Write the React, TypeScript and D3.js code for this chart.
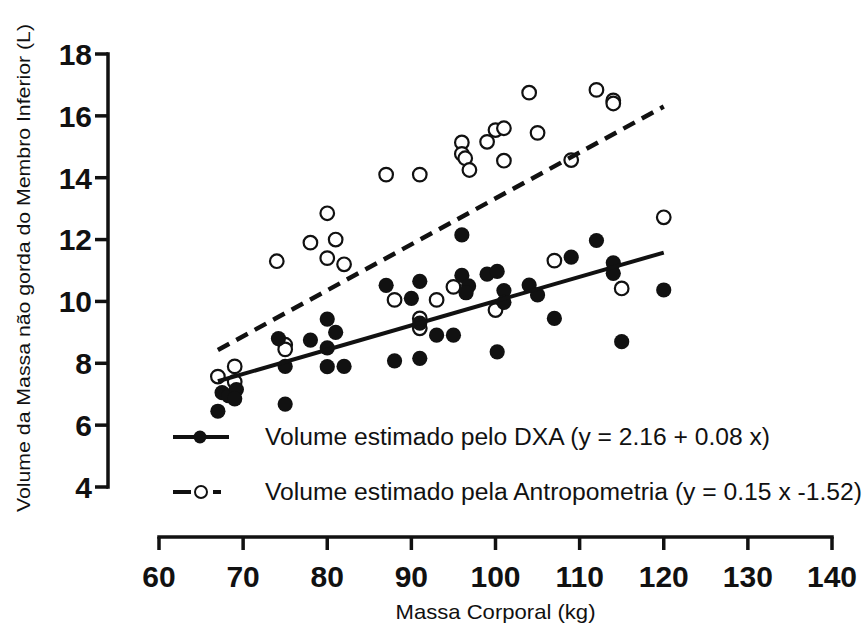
import React from "react";
import * as d3 from "d3";

// Massa corporal (kg) and leg lean volume (L) — DXA estimate
const dxaMass = [67, 67.5, 68.3, 69.2, 69, 74.2, 75, 75, 78, 80, 81, 80, 80, 82, 87, 88, 90, 91, 91, 91, 93, 95, 96, 96, 96.8, 96.5, 99, 100.2, 101, 101, 100.2, 104, 105, 107, 109, 112, 114, 114, 115, 120];
const dxaVolume = [6.45, 7.05, 6.95, 7.15, 6.85, 8.8, 7.9, 6.68, 8.75, 9.43, 9.0, 8.5, 7.89, 7.9, 10.52, 8.08, 10.1, 10.65, 9.3, 8.16, 8.91, 8.91, 12.15, 10.84, 10.5, 10.28, 10.88, 10.97, 10.35, 9.97, 8.37, 10.53, 10.21, 9.45, 11.43, 11.97, 11.25, 10.91, 8.7, 10.37];

// Anthropometric estimate
const antroMass = [67, 69, 69, 74, 75, 75, 78, 80, 80, 81, 82, 87, 88, 91, 91, 91, 93, 95, 96, 96, 96.4, 96.9, 99, 100, 101, 101, 100, 104, 105, 107, 109, 112, 114, 114, 115, 120];
const antroVolume = [7.57, 7.9, 7.4, 11.3, 8.6, 8.45, 11.9, 12.85, 11.4, 12.0, 11.2, 14.1, 10.05, 14.1, 9.45, 9.13, 10.05, 10.47, 15.14, 14.77, 14.63, 14.25, 15.16, 15.54, 15.6, 14.55, 9.72, 16.75, 15.45, 11.32, 14.57, 16.84, 16.5, 16.4, 10.42, 12.72];

// Regression fits (intercept, slope) and fitted range
const dxaFit = [2.16, 0.0785];
const antroFit = [-1.52, 0.1485];
const fitRange = [67, 120];

const xTicks = [60, 70, 80, 90, 100, 110, 120, 130, 140];
const yTicks = [4, 6, 8, 10, 12, 14, 16, 18];

const legendLabels = [
  "Volume estimado pelo DXA (y = 2.16 + 0.08 x)",
  "Volume estimado pela Antropometria (y = 0.15 x -1.52)",
];
const xTitle = "Massa Corporal (kg)";
const yTitle = "Volume da Massa não gorda do Membro Inferior (L)";

const FONT = "'Liberation Sans', Arial, Helvetica, sans-serif";
const INK = "#111";

export default function App() {
  const W = 866;
  const H = 631;
  const x = d3.scaleLinear().domain([60, 140]).range([159, 832]);
  const y = d3.scaleLinear().domain([4, 18]).range([487, 54]);

  const axisY = 108;
  const axisX = 537;

  const line = d3
    .line<number>()
    .x((m) => x(m))
    .y((m) => y(m));

  const dxaLine = d3
    .line<number>()
    .x((m) => x(m))
    .y((m) => y(dxaFit[0] + dxaFit[1] * m))(fitRange);
  const antroLine = d3
    .line<number>()
    .x((m) => x(m))
    .y((m) => y(antroFit[0] + antroFit[1] * m))(fitRange);
  void line;

  return (
    <div style={{ position: "absolute", left: 0, top: 0 }}>
      <svg width={W} height={H} style={{ display: "block", background: "#fff" }}>
        {/* Y axis */}
        <line x1={axisY} x2={axisY} y1={y(18) - 1.75} y2={y(4) + 1.75} stroke={INK} strokeWidth={3.5} />
        {yTicks.map((t) => (
          <g key={"yt" + t}>
            <line x1={axisY - 13} x2={axisY} y1={y(t)} y2={y(t)} stroke={INK} strokeWidth={3.5} />
            <text
              x={axisY - 16}
              y={y(t)}
              dy="0.36em"
              textAnchor="end"
              fontFamily={FONT}
              fontWeight="bold"
              fontSize={30}
              fill={INK}
            >
              {t}
            </text>
          </g>
        ))}
        <text
          x={30}
          y={268}
          transform="rotate(-90, 30, 268)"
          textAnchor="middle"
          fontFamily={FONT}
          fontSize={19}
          fill={INK}
          textLength={488}
          lengthAdjust="spacingAndGlyphs"
        >
          {yTitle}
        </text>

        {/* X axis */}
        <line x1={x(60) - 1.75} x2={x(140) + 1.75} y1={axisX} y2={axisX} stroke={INK} strokeWidth={3.5} />
        {xTicks.map((t) => (
          <g key={"xt" + t}>
            <line x1={x(t)} x2={x(t)} y1={axisX} y2={axisX + 13} stroke={INK} strokeWidth={3.5} />
            <text
              x={x(t)}
              y={587}
              textAnchor="middle"
              fontFamily={FONT}
              fontWeight="bold"
              fontSize={30}
              fill={INK}
            >
              {t}
            </text>
          </g>
        ))}
        <text
          x={x(100)}
          y={619}
          textAnchor="middle"
          fontFamily={FONT}
          fontSize={21}
          fill={INK}
          textLength={200}
          lengthAdjust="spacingAndGlyphs"
        >
          {xTitle}
        </text>

        {/* Anthropometric points (open) */}
        {antroMass.map((m, i) => (
          <circle key={"a" + i} cx={x(m)} cy={y(antroVolume[i])} r={6.8} fill="#fff" stroke={INK} strokeWidth={2.2} />
        ))}
        {/* DXA points (filled) */}
        {dxaMass.map((m, i) => (
          <circle key={"d" + i} cx={x(m)} cy={y(dxaVolume[i])} r={7.6} fill={INK} />
        ))}

        {/* Regression lines */}
        <path d={antroLine || ""} fill="none" stroke={INK} strokeWidth={4.5} strokeDasharray="13 8" />
        <path d={dxaLine || ""} fill="none" stroke={INK} strokeWidth={4} />

        {/* Legend */}
        <g>
          <line x1={173} x2={229} y1={437} y2={437} stroke={INK} strokeWidth={4} />
          <circle cx={200} cy={437} r={6.5} fill={INK} />
          <text x={265} y={445} fontFamily={FONT} fontSize={23} fill={INK} textLength={505} lengthAdjust="spacingAndGlyphs">
            {legendLabels[0]}
          </text>

          <line x1={173} x2={191} y1={492} y2={492} stroke={INK} strokeWidth={4} />
          <line x1={213} x2={221} y1={492} y2={492} stroke={INK} strokeWidth={4} />
          <circle cx={201} cy={492} r={6} fill="#fff" stroke={INK} strokeWidth={2} />
          <text x={265} y={500} fontFamily={FONT} fontSize={23} fill={INK} textLength={597} lengthAdjust="spacingAndGlyphs">
            {legendLabels[1]}
          </text>
        </g>
      </svg>
    </div>
  );
}
